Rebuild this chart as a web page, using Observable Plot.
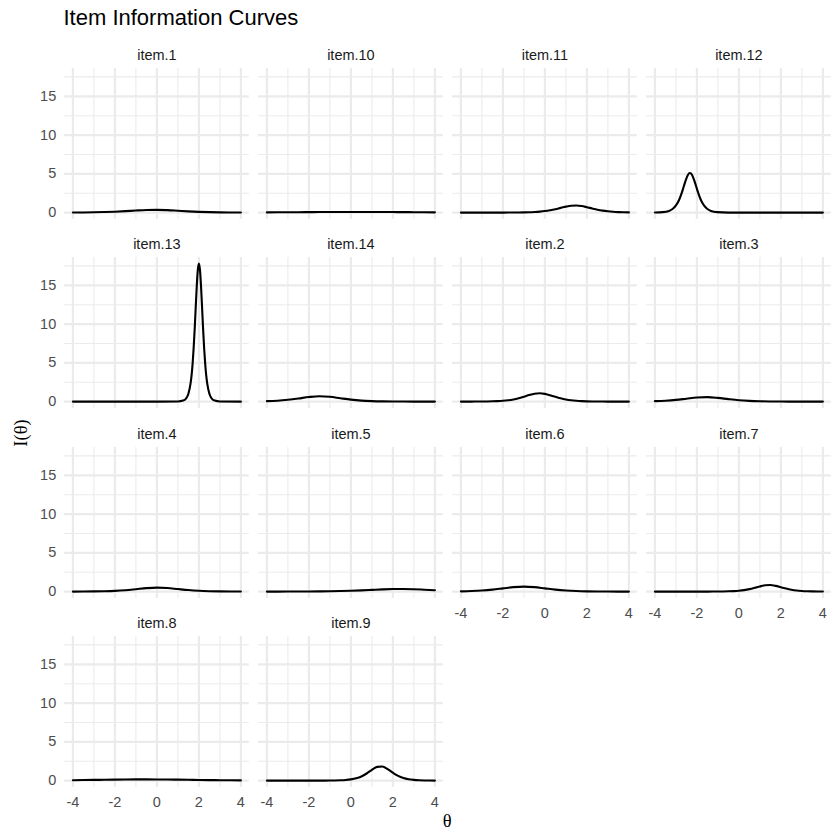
<!DOCTYPE html>
<html><head><meta charset="utf-8">
<script src="https://cdn.jsdelivr.net/npm/d3@7"></script>
<script src="https://cdn.jsdelivr.net/npm/@observablehq/plot@0.6"></script>
<style>
body{margin:0;background:#fff;}
#chart{position:relative;width:840px;height:840px;overflow:hidden;font-family:"Liberation Sans",Arial,Helvetica,sans-serif;}
.abs{position:absolute;line-height:1;white-space:nowrap;}
</style></head><body><div id="chart"></div>
<script>
// ---- data ----
const itemNames = ["item.1","item.10","item.11","item.12","item.13","item.14","item.2","item.3","item.4","item.5","item.6","item.7","item.8","item.9"];
const thetaHalf = [-4,-3.5,-3,-2.5,-2,-1.5,-1,-0.5,0,0.5,1,1.5,2,2.5,3,3.5,4];
const thetaQuarter = [-4,-3.75,-3.5,-3.25,-3,-2.75,-2.5,-2.25,-2,-1.75,-1.5,-1.25,-1,-0.75,-0.5,-0.25,0,0.25,0.5,0.75,1,1.25,1.5,1.75,2,2.25,2.5,2.75,3,3.25,3.5,3.75,4];
const theta12 = [-4,-3.63,-3.33,-3.13,-2.93,-2.83,-2.73,-2.63,-2.53,-2.43,-2.33,-2.23,-2.13,-2.03,-1.93,-1.83,-1.73,-1.53,-1.33,-1.03,-0.5,0,1,2,3,4];
const theta13 = [-4,-3,-2,-1,0,1,1.25,1.4,1.5,1.6,1.65,1.7,1.75,1.8,1.85,1.9,1.95,2,2.05,2.1,2.15,2.2,2.25,2.3,2.35,2.4,2.5,2.6,2.75,3,4];

const item1Info  = [0.013,0.024,0.042,0.072,0.121,0.19,0.273,0.34,0.359,0.317,0.24,0.16,0.099,0.059,0.033,0.019,0.010];
const item10Info = [0.03,0.04,0.05,0.055,0.065,0.075,0.08,0.088,0.09,0.09,0.087,0.08,0.072,0.064,0.055,0.046,0.038];
const item11Info = [0,0,0,0.001,0.001,0.001,0.002,0.003,0.005,0.008,0.013,0.020,0.033,0.052,0.085,0.13,0.20,0.305,0.44,0.61,0.77,0.89,0.92,0.85,0.70,0.535,0.38,0.258,0.17,0.109,0.069,0.043,0.027];
const item12Info = [0.011,0.059,0.22,0.53,1.20,1.76,2.48,3.33,4.19,4.85,5.1,4.85,4.19,3.33,2.48,1.76,1.20,0.53,0.22,0.059,0.006,0.001,0,0,0,0];
const item13Info = [0,0,0,0,0,0.015,0.13,0.44,1.02,2.28,3.35,4.86,6.89,9.38,12.22,14.97,17.03,17.8,17.03,14.97,12.22,9.38,6.89,4.86,3.35,2.28,1.02,0.44,0.13,0.015,0];
const item14Info = [0.059,0.12,0.236,0.40,0.59,0.70,0.626,0.436,0.255,0.133,0.068,0.032,0.015,0.007,0.003,0.0015,0.0007];
const item2Info  = [0.002,0.003,0.005,0.009,0.014,0.024,0.04,0.067,0.11,0.178,0.283,0.435,0.63,0.84,1.015,1.08,1.0,0.82,0.62,0.425,0.273,0.172,0.107,0.065,0.038,0.023,0.014,0.008,0.005,0.003,0.002,0.001,0.001];
const item3Info  = [0.059,0.119,0.222,0.375,0.528,0.577,0.48,0.32,0.18,0.093,0.045,0.022,0.01,0.005,0.002,0.001,0.0005];
const item4Info  = [0.006,0.013,0.026,0.052,0.10,0.187,0.315,0.45,0.52,0.465,0.33,0.2,0.11,0.056,0.028,0.014,0.007];
const item5Info  = [0.003,0.004,0.0065,0.011,0.017,0.028,0.044,0.072,0.109,0.159,0.222,0.287,0.33,0.338,0.306,0.246,0.183];
const item6Info  = [0.038,0.074,0.14,0.253,0.414,0.577,0.65,0.577,0.414,0.253,0.14,0.074,0.038,0.019,0.0096,0.005,0.002];
const item7Info  = [0,0,0,0,0,0,0,0.001,0.001,0.002,0.004,0.007,0.013,0.022,0.039,0.068,0.117,0.198,0.32,0.486,0.67,0.814,0.845,0.745,0.568,0.39,0.246,0.147,0.088,0.05,0.029,0.016,0.009];
const item8Info  = [0.057,0.074,0.092,0.112,0.131,0.147,0.157,0.16,0.154,0.141,0.123,0.104,0.084,0.066,0.053,0.039,0.029];
const item9Info  = [0,0,0,0,0,0,0,0.0005,0.001,0.0015,0.003,0.0055,0.011,0.021,0.042,0.081,0.16,0.30,0.54,0.92,1.39,1.77,1.82,1.49,1.02,0.61,0.34,0.18,0.093,0.048,0.024,0.012,0.006];

const xMajor = [-4,-2,0,2,4];
const xMinor = [-3,-1,1,3];
const yMajor = [0,5,10,15];
const yMinor = [2.5,7.5,12.5,17.5];

const titleText = "Item Information Curves";
const xTitle = "θ";
const yTitle = "I(θ)";

// ---- assemble ----
const itemThetas = [thetaHalf,thetaHalf,thetaQuarter,theta12,theta13,thetaHalf,thetaQuarter,thetaHalf,thetaHalf,thetaHalf,thetaHalf,thetaQuarter,thetaHalf,thetaQuarter];
const itemInfos = [item1Info,item10Info,item11Info,item12Info,item13Info,item14Info,item2Info,item3Info,item4Info,item5Info,item6Info,item7Info,item8Info,item9Info];

const chart = document.getElementById("chart");
const FONT = '"Liberation Sans", Arial, Helvetica, sans-serif';
const NCOL = 4;
const PANEL_W = 184.8, PANEL_H = 151;
const COL0 = 63.6, COLSTEP = 194.1, ROW0 = 67.9, ROWSTEP = 189.5;
const ML = 50, MR = 4, MT = 30, MB = 30;
const GRID = "#EBEBEB";

itemNames.forEach((name, i) => {
  const col = i % NCOL, row = Math.floor(i / NCOL);
  const showX = i + NCOL >= itemNames.length;
  const showY = col === 0;
  const data = itemThetas[i].map((t, k) => ({theta: t, info: itemInfos[i][k]}));
  const marks = [
    Plot.ruleX(xMinor, {stroke: GRID, strokeWidth: 1.1}),
    Plot.ruleY(yMinor, {stroke: GRID, strokeWidth: 1.1}),
    Plot.ruleX(xMajor, {stroke: GRID, strokeWidth: 2.2}),
    Plot.ruleY(yMajor, {stroke: GRID, strokeWidth: 2.2}),
    Plot.line(data, {x: "theta", y: "info", curve: "monotone-x", stroke: "black", strokeWidth: 2.1}),
    Plot.text([name], {text: d => d, frameAnchor: "top", dy: -13.6, lineAnchor: "middle", fontSize: 14.5, fill: "#1A1A1A"})
  ];
  if (showX) marks.push(Plot.text(xMajor, {x: d => d, text: d => String(d), frameAnchor: "bottom", dy: 14.8, lineAnchor: "middle", textAnchor: "middle", fontSize: 14.5, fill: "#4D4D4D"}));
  if (showY) marks.push(Plot.text(yMajor, {y: d => d, text: d => String(d), frameAnchor: "left", dx: -8.3, lineAnchor: "middle", textAnchor: "end", fontSize: 14.5, fill: "#4D4D4D"}));
  const svg = Plot.plot({
    width: ML + PANEL_W + MR,
    height: MT + PANEL_H + MB,
    marginLeft: ML, marginRight: MR, marginTop: MT, marginBottom: MB,
    x: {domain: [-4.4, 4.4], axis: null},
    y: {domain: [-0.885, 18.585], axis: null},
    style: {background: "transparent", fontFamily: FONT, overflow: "visible"},
    marks
  });
  svg.style.position = "absolute";
  svg.style.left = (COL0 + col * COLSTEP - ML) + "px";
  svg.style.top = (ROW0 + row * ROWSTEP - MT) + "px";
  svg.style.maxWidth = "none";
  chart.appendChild(svg);
});

const t = document.createElement("div");
t.className = "abs"; t.textContent = titleText;
Object.assign(t.style, {left: "63.5px", top: "7px", fontSize: "22px", color: "#000"});
chart.appendChild(t);

const xt = document.createElement("div");
xt.className = "abs"; xt.textContent = xTitle;
Object.assign(xt.style, {left: "447.2px", top: "821px", transform: "translate(-50%,-50%)", fontSize: "18.5px", fontFamily: '"Liberation Serif","Times New Roman",serif', color: "#000"});
chart.appendChild(xt);

const yt = document.createElement("div");
yt.className = "abs"; yt.textContent = yTitle;
Object.assign(yt.style, {left: "21px", top: "433px", transform: "translate(-50%,-50%) rotate(-90deg)", fontSize: "18.5px", fontFamily: '"Liberation Serif","Times New Roman",serif', color: "#000"});
chart.appendChild(yt);
</script></body></html>
